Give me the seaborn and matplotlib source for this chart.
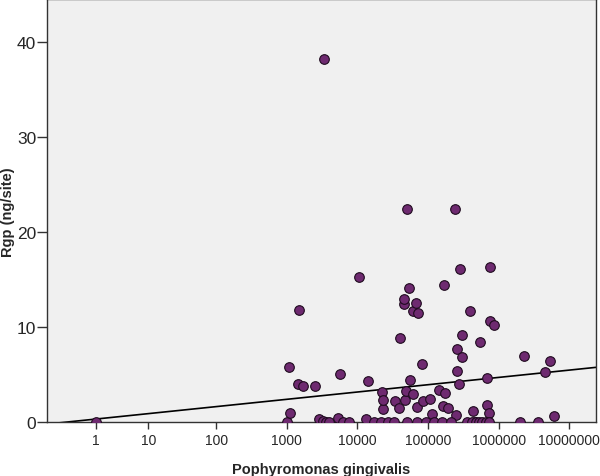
import numpy as np
import pandas as pd
import matplotlib
matplotlib.use("Agg")
import matplotlib.pyplot as plt
import seaborn as sns
from matplotlib.ticker import FixedLocator, NullLocator, FixedFormatter

# ---- data ----
pg_counts = [
    1, 1000, 1100, 1063, 1425, 1710, 2525, 1490, 2880, 3210, 3400, 3600, 3980,
    5240, 5580, 6150, 7640, 10700, 13150, 14150, 22100, 23100, 23400, 34500,
    39400, 39700, 45300, 45700, 47800, 48300, 50500, 53700, 56200, 61200,
    61300, 67500, 69000, 71300, 81300, 85900, 106500, 115000, 144500, 162000,
    166000, 175500, 191000, 239000, 251000, 253000, 256000, 273000, 288000,
    298000, 298000, 391000, 431000, 536000, 673000, 673000, 726000, 752000,
    752000, 853000, 1990000, 2300000, 3600000, 4600000, 5400000, 6100000,
    17300, 21400, 26700, 33000, 51000, 70600, 92500, 121000, 160000, 209000,
    360000, 467000, 423000, 471000, 525000, 585000, 652000, 726000,
]
rgp_values = [
    0.0, 0.0, 1.0, 5.8, 4.0, 3.8, 3.8, 11.75, 0.3, 0.1, 38.2, 0.0, 0.0,
    0.4, 5.1, 0.0, 0.0, 15.3, 0.3, 4.35, 3.2, 1.4, 2.3, 2.25,
    1.45, 8.8, 12.45, 13.0, 2.35, 3.25, 22.4, 14.1, 4.45, 2.9,
    11.7, 12.5, 1.6, 11.45, 6.1, 2.25, 2.4, 0.8, 3.4, 1.7,
    14.45, 3.05, 1.5, 22.45, 0.75, 5.4, 7.7, 3.95, 16.1,
    9.2, 6.8, 11.7, 1.2, 8.4, 4.65, 1.8, 0.95, 16.3,
    10.6, 10.2, 0.0, 7.0, 0.0, 5.25, 6.45, 0.6,
    0.0, 0.0, 0.0, 0.0, 0.0, 0.0, 0.0, 0.0, 0.0, 0.0,
    0.0, 0.0, 0.0, 0.0, 0.0, 0.0, 0.0, 0.0,
]
x_ticks = [1, 10, 100, 1000, 10000, 100000, 1000000, 10000000]
x_tick_labels = ["1", "10", "100", "1000", "10000", "100000", "1000000", "10000000"]
y_ticks = [0, 10, 20, 30, 40]
fit_intercept = 0.082   # fit line: Rgp = a + b*log10(Pg+1)
fit_slope = 0.769

df = pd.DataFrame({"Pg": pg_counts, "Rgp": rgp_values})

# ---- figure ----
sns.set_theme(style="white")
plt.rcParams["font.family"] = ["Liberation Sans", "DejaVu Sans"]

fig = plt.figure(figsize=(6.0, 4.77), dpi=100)
ax = fig.add_axes([0.079, 0.1132, 0.914, 0.886])
ax.set_facecolor("#F0F0F0")

fwd = lambda x: np.log10(np.asarray(x, dtype=float) + 1.0)
inv = lambda t: 10.0 ** np.asarray(t, dtype=float) - 1.0
ax.set_xscale("function", functions=(fwd, inv))

t_lo, t_hi = -0.389, 7.375
x_lo, x_hi = float(inv(t_lo)), float(inv(t_hi))

# fit line
t_line = np.linspace(t_lo, t_hi, 200)
line_df = pd.DataFrame({"Pg": inv(t_line), "Rgp": fit_intercept + fit_slope * t_line})
sns.lineplot(data=line_df, x="Pg", y="Rgp", color="black", linewidth=1.2, ax=ax,
             zorder=2, sort=False)

sns.scatterplot(data=df, x="Pg", y="Rgp", s=48, color="#6E2A70",
                edgecolor="#1E0A1E", linewidth=0.8, ax=ax, zorder=3)

ax.set_xlim(x_lo, x_hi)
ax.set_ylim(0, 44.5)

ax.xaxis.set_major_locator(FixedLocator(x_ticks))
ax.xaxis.set_major_formatter(FixedFormatter(x_tick_labels))
ax.xaxis.set_minor_locator(NullLocator())
ax.set_yticks(y_ticks)

ax.tick_params(axis="x", direction="out", length=5, width=1.0, color="#333333",
               labelsize=10, pad=3, bottom=True)
ax.tick_params(axis="y", direction="out", length=7, width=1.0, color="#333333",
               labelsize=12.5, pad=1, left=True)

for sp in ax.spines.values():
    sp.set_color("#333333")
    sp.set_linewidth(1.0)

ax.set_xlabel("Pophyromonas gingivalis", fontsize=10.5, fontweight="bold")
ax.set_ylabel("Rgp (ng/site)", fontsize=10.5, fontweight="bold")
ax.xaxis.set_label_coords(0.5, -0.111)
ax.xaxis.label.set_verticalalignment("center")
ax.yaxis.set_label_coords(-0.072, 0.5)
ax.yaxis.label.set_verticalalignment("center")

fig.savefig("out.png", dpi=100, facecolor="white")
